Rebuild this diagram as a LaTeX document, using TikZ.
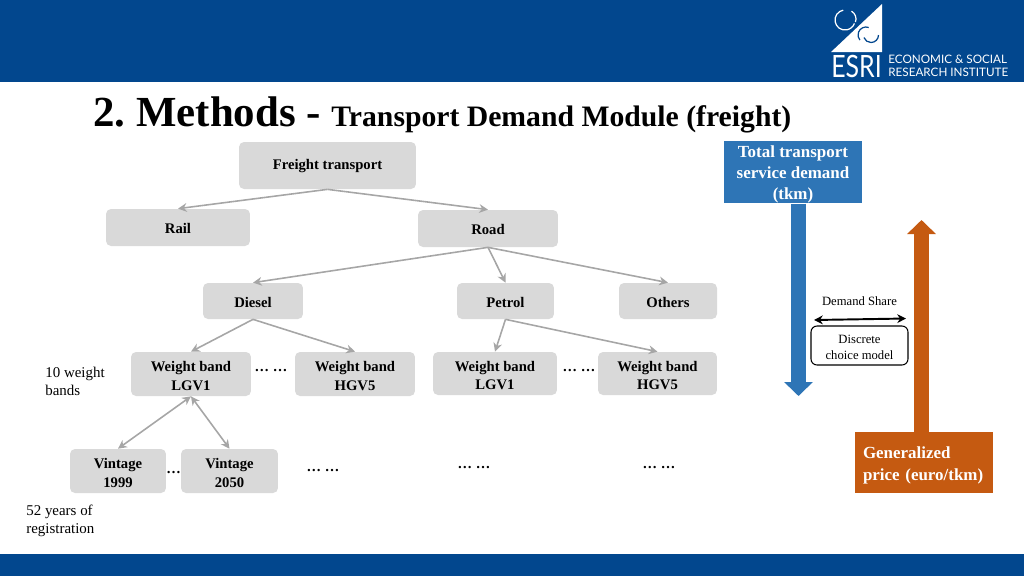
\documentclass[tikz,border=0pt]{standalone}
\usepackage{fontspec}
\setmainfont{Liberation Serif}
\newfontfamily\logofont{Lato}
\usetikzlibrary{arrows.meta}
\definecolor{esriblue}{HTML}{02478E}
\definecolor{boxgray}{HTML}{D9D9D9}
\definecolor{linegray}{HTML}{A6A6A6}
\definecolor{demandblue}{HTML}{2E75B6}
\definecolor{priceorange}{HTML}{C55A11}
\frenchspacing
\newcommand{\lift}[1]{\rule{0pt}{#1}}
\tikzset{
	box/.style={rectangle,rounded corners=0.1cm,fill=boxgray,inner sep=0pt,align=center,font=\fontsize{8.35}{10.4}\selectfont\bfseries},
	link/.style={linegray,line width=0.9pt,-{Stealth[length=5pt,width=5pt]}},
	twolink/.style={linegray,line width=0.9pt,{Stealth[length=5pt,width=5pt]}-{Stealth[length=5pt,width=5pt]}},
	dots/.style={inner sep=0pt,font=\fontsize{8.25}{10}\selectfont\bfseries},
	note/.style={inner sep=0pt,align=left,font=\fontsize{8.5}{10.2}\selectfont},
	colorbox/.style={rectangle,inner sep=0pt,text=white,font=\fontsize{9.65}{12}\selectfont\bfseries}
}
\begin{document}
\begin{tikzpicture}[x=0.02cm,y=-0.02cm]
	\useasboundingbox (0,0) rectangle (1024,576);
	% bands
	\fill [esriblue] (0,0) rectangle (1024,82);
	\fill [esriblue] (0,554) rectangle (1024,576);
	% logo
	\fill [white] (831,52)--(882,4)--(882,52)--cycle;
	\draw [white,line width=0.7pt] (845,20) ++(-100:10) arc (-100:-340:10);
	\draw [white,line width=0.7pt] (847,19) ++(-60:9) arc (-60:20:9);
	\draw [esriblue,line width=0.7pt] (866,35) ++(-70:8) arc (-70:-220:8);
	\draw [esriblue,line width=0.7pt] (871,35) ++(0:7.5) arc (0:160:7.5);
	\node [inner sep=0pt,text=white,font=\logofont\fontsize{17.5}{17.5}\selectfont] (esri) at (856.5,66) {\scalebox{0.81}[1]{ESRI}};
	\node [inner sep=0pt,anchor=west,align=left,text=white,font=\logofont\fontsize{6.65}{7.6}\selectfont] (institute) at (888,65.5) {ECONOMIC \& SOCIAL\\RESEARCH INSTITUTE};
	% title
	\node [inner sep=0pt,anchor=base west,font=\fontsize{24.4}{24.4}\selectfont\bfseries] (title) at (93,126) {2. Methods -};
	\node [inner sep=0pt,anchor=base west,font=\fontsize{16.9}{16.9}\selectfont\bfseries] (subtitle) at (331,126) {Transport Demand Module (freight)};
	% tree
	\node [box,minimum width=3.54cm,minimum height=0.94cm] (freight) at (327.5,165.5) {\lift{6.9pt}Freight transport};
	\node [box,minimum width=2.88cm,minimum height=0.74cm] (rail) at (178,227.5) {\lift{6.9pt}Rail};
	\node [box,minimum width=2.80cm,minimum height=0.74cm] (road) at (488,228.5) {\lift{6.9pt}Road};
	\node [box,minimum width=2.00cm,minimum height=0.72cm] (diesel) at (253,301) {\lift{6.9pt}Diesel};
	\node [box,minimum width=1.94cm,minimum height=0.72cm] (petrol) at (505.5,301) {\lift{6.9pt}Petrol};
	\node [box,minimum width=1.96cm,minimum height=0.72cm] (others) at (668,301) {\lift{6.9pt}Others};
	\node [box,minimum width=2.40cm,minimum height=0.88cm] (dieselLGV) at (191,374) {\lift{8pt}Weight band\\LGV1};
	\node [box,minimum width=2.40cm,minimum height=0.88cm] (dieselHGV) at (355,374) {\lift{8pt}Weight band\\HGV5};
	\node [box,minimum width=2.48cm,minimum height=0.86cm] (petrolLGV) at (495,373.5) {\lift{8pt}Weight band\\LGV1};
	\node [box,minimum width=2.38cm,minimum height=0.86cm] (petrolHGV) at (657.5,373.5) {\lift{8pt}Weight band\\HGV5};
	\node [box,minimum width=1.92cm,minimum height=0.88cm] (vintageA) at (118,471) {\lift{8pt}Vintage\\1999};
	\node [box,minimum width=1.94cm,minimum height=0.88cm] (vintageB) at (229.5,471) {\lift{8pt}Vintage\\2050};
	\draw [link] (freight.south)--(rail.north);
	\draw [link] (freight.south)--(road.north);
	\draw [link] (road.south)--(diesel.north);
	\draw [link] (road.south)--(petrol.north);
	\draw [link] (road.south)--(others.north);
	\draw [link] (diesel.south)--(dieselLGV.north);
	\draw [link] (diesel.south)--(dieselHGV.north);
	\draw [link] (petrol.south)--(petrolLGV.north);
	\draw [link] (petrol.south)--(petrolHGV.north);
	\draw [twolink] (dieselLGV.south)--(vintageA.north);
	\draw [twolink] (dieselLGV.south)--(vintageB.north);
	% dots
	\node [dots] (dotsA) at (271,371) {\dots\ \dots};
	\node [dots] (dotsB) at (579,371) {\dots\ \dots};
	\node [dots] (dotsC) at (173.5,473) {\dots};
	\node [dots] (dotsD) at (323,471) {\dots\ \dots};
	\node [dots] (dotsE) at (474,468) {\dots\ \dots};
	\node [dots] (dotsF) at (659,468) {\dots\ \dots};
	% notes
	\node [note,anchor=north west] (bands) at (45,367) {10 weight\\bands};
	\node [note,anchor=north west] (years) at (26,505) {52 years of\\registration};
	% right side
	\node [colorbox,fill=demandblue,align=center,minimum width=2.76cm,minimum height=1.24cm] (total) at (793,172) {\lift{9.4pt}Total transport\\service demand\\(tkm)};
	\node [colorbox,fill=priceorange,align=left,minimum width=2.76cm,minimum height=1.22cm,text width=2.44cm] (price) at (924,462.5) {\lift{10pt}Generalized\\price (euro/tkm)};
	\coordinate (demandend) at (798.5,396);
	\coordinate (priceend) at (921.5,220);
	\draw [demandblue,line width=0.30cm,-{Triangle[length=0.28cm,width=0.56cm]}] (total.south -| demandend)--(demandend);
	\draw [priceorange,line width=0.30cm,-{Triangle[length=0.28cm,width=0.56cm]}] (price.north -| priceend)--(priceend);
	\node [inner sep=0pt,font=\fontsize{7.2}{8.8}\selectfont] (share) at (859.5,301.5) {Demand Share};
	\node [draw,rectangle,rounded corners=0.12cm,line width=0.6pt,inner sep=0pt,align=center,minimum width=1.94cm,minimum height=0.78cm,font=\fontsize{7.2}{8.8}\selectfont] (choice) at (859.5,345.5) {\lift{7pt}Discrete\\choice model};
	\coordinate (shareleft) at (814,320);
	\coordinate (shareright) at (906,318.5);
	\draw [line width=1.1pt,{Stealth[length=5pt,width=5pt]}-{Stealth[length=5pt,width=5pt]}] (shareleft)--(shareright);
\end{tikzpicture}
\end{document}
